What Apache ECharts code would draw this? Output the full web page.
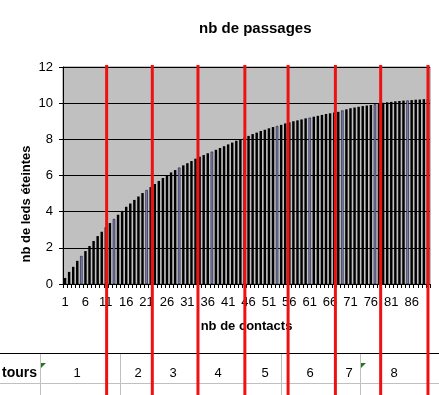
<!DOCTYPE html>
<html>
<head>
<meta charset="utf-8">
<script src="https://cdn.jsdelivr.net/npm/echarts@6/dist/echarts.min.js"></script>
<style>
  html, body { margin: 0; padding: 0; background: #fff; }
  #chart { width: 439px; height: 395px; }
</style>
</head>
<body>
<div id="chart"></div>
<script>
// ---- data ----
var categories = ['1','2','3','4','5','6','7','8','9','10','11','12','13','14','15','16','17','18','19','20',
  '21','22','23','24','25','26','27','28','29','30','31','32','33','34','35','36','37','38','39','40',
  '41','42','43','44','45','46','47','48','49','50','51','52','53','54','55','56','57','58','59','60',
  '61','62','63','64','65','66','67','68','69','70','71','72','73','74','75','76','77','78','79','80',
  '81','82','83','84','85','86','87','88','89','90'];
var passages = [
  0.33,0.67,0.95,1.28,1.55,1.82,2.1,2.38,2.65,2.89,
  3.14,3.37,3.6,3.83,4.04,4.27,4.45,4.65,4.84,5.03,
  5.2,5.36,5.53,5.7,5.86,6.02,6.17,6.3,6.44,6.56,
  6.68,6.8,6.93,7.04,7.13,7.23,7.32,7.42,7.52,7.62,
  7.72,7.82,7.92,8.0,8.1,8.19,8.29,8.37,8.46,8.53,
  8.61,8.68,8.74,8.8,8.88,8.94,9.0,9.05,9.1,9.16,
  9.2,9.25,9.3,9.35,9.4,9.44,9.48,9.52,9.6,9.66,
  9.72,9.76,9.8,9.84,9.87,9.9,9.94,9.97,10.02,10.05,
  10.07,10.1,10.12,10.14,10.15,10.17,10.19,10.2,10.22,10.23
];
var yTicks = [0, 2, 4, 6, 8, 10, 12];
// red separators, in category units (1-based, fractional = between two bars)
var tourBoundaries = [11.2, 22.4, 33.6, 45.1, 55.7, 67.3, 78.4, 90];
var tourLabels = ['1','2','3','4','5','6','7','8'];
var tourLabelX = [77, 138, 173, 218, 265, 310, 349, 394];

var FONT = '"Liberation Sans", Arial, sans-serif';
var chart = echarts.init(document.getElementById('chart'), null, { renderer: 'canvas' });

var barData = passages.map(function (v, i) {
  if (i % 8 === 4) {
    return { value: v, itemStyle: { color: '#8486b8', borderColor: '#101030', borderWidth: 0.6 } };
  }
  return v;
});

chart.setOption({
  animation: false,
  backgroundColor: '#ffffff',
  title: {
    text: 'nb de passages',
    left: 194, top: 16,
    textStyle: { fontFamily: FONT, fontSize: 15, fontWeight: 'bold', color: '#000' }
  },
  grid: {
    left: 63, right: 9, top: 67, bottom: 111,
    show: true, backgroundColor: '#c0c0c0', borderColor: '#808080', borderWidth: 1
  },
  xAxis: {
    type: 'category',
    data: categories,
    boundaryGap: true,
    name: 'nb de contacts',
    nameLocation: 'middle',
    nameGap: 36,
    nameMoveOverlap: false,
    nameTextStyle: { fontFamily: FONT, fontSize: 13, fontWeight: 'bold', color: '#000' },
    axisLine: { show: true, lineStyle: { color: '#000', width: 1 } },
    axisTick: { show: true, interval: 0, length: 4, lineStyle: { color: '#000' } },
    axisLabel: { interval: 4, margin: 12, fontFamily: FONT, fontSize: 13, color: '#000' },
    splitLine: { show: false }
  },
  yAxis: {
    type: 'value',
    min: yTicks[0], max: yTicks[yTicks.length - 1], interval: 2,
    name: 'nb de leds éteintes',
    nameLocation: 'middle',
    nameGap: 30,
    nameMoveOverlap: false,
    nameTextStyle: { fontFamily: FONT, fontSize: 13, fontWeight: 'bold', color: '#000', padding: [0, 57, 0, 0] },
    axisLine: { show: true, lineStyle: { color: '#000', width: 1 } },
    axisTick: { show: true, length: 4, lineStyle: { color: '#000' } },
    axisLabel: { margin: 10, fontFamily: FONT, fontSize: 13, color: '#000' },
    splitLine: { show: true, lineStyle: { color: '#000', width: 1 } }
  },
  series: [{
    type: 'bar',
    data: barData,
    barWidth: '60%',
    itemStyle: { color: '#000' }
  }]
});

function catX(v) {
  var i = Math.floor(v - 1), f = (v - 1) - i;
  var a = chart.convertToPixel({ xAxisIndex: 0 }, i);
  if (f === 0) return a;
  var b = chart.convertToPixel({ xAxisIndex: 0 }, i + 1);
  return a + (b - a) * f;
}

var W = 439, H = 395;
var gridGray = '#c0c0c0';
var g = [];
// table lines
g.push({ type: 'line', z: 50, shape: { x1: 0, y1: 383.5, x2: W, y2: 383.5 }, style: { stroke: gridGray, lineWidth: 1 } });
[40.5, 120.5, 281.5, 360.5].forEach(function (x) {
  g.push({ type: 'line', z: 50, shape: { x1: x, y1: 353, x2: x, y2: H }, style: { stroke: gridGray, lineWidth: 1 } });
});
g.push({ type: 'line', z: 51, shape: { x1: 0, y1: 353.5, x2: W, y2: 353.5 }, style: { stroke: '#000', lineWidth: 1 } });
// green indicator triangles
[41, 361].forEach(function (x) {
  g.push({ type: 'polygon', z: 52, shape: { points: [[x, 363], [x + 5, 363], [x, 368]] }, style: { fill: '#1f7a1f' } });
});
// table texts
g.push({ type: 'text', z: 53, x: 37, y: 373, style: { text: 'tours', fontFamily: FONT, fontSize: 14, fontWeight: 'bold', fill: '#000', textAlign: 'right', textVerticalAlign: 'middle' } });
tourLabels.forEach(function (t, i) {
  g.push({ type: 'text', z: 53, x: tourLabelX[i], y: 373, style: { text: t, fontFamily: FONT, fontSize: 13, fill: '#000', textAlign: 'center', textVerticalAlign: 'middle' } });
});
// red vertical separators
tourBoundaries.forEach(function (v) {
  var x = catX(v);
  g.push({ type: 'line', z: 100, shape: { x1: x, y1: 65, x2: x, y2: H }, style: { stroke: '#ee1111', lineWidth: 3 } });
});
chart.setOption({ graphic: g });
</script>
</body>
</html>
